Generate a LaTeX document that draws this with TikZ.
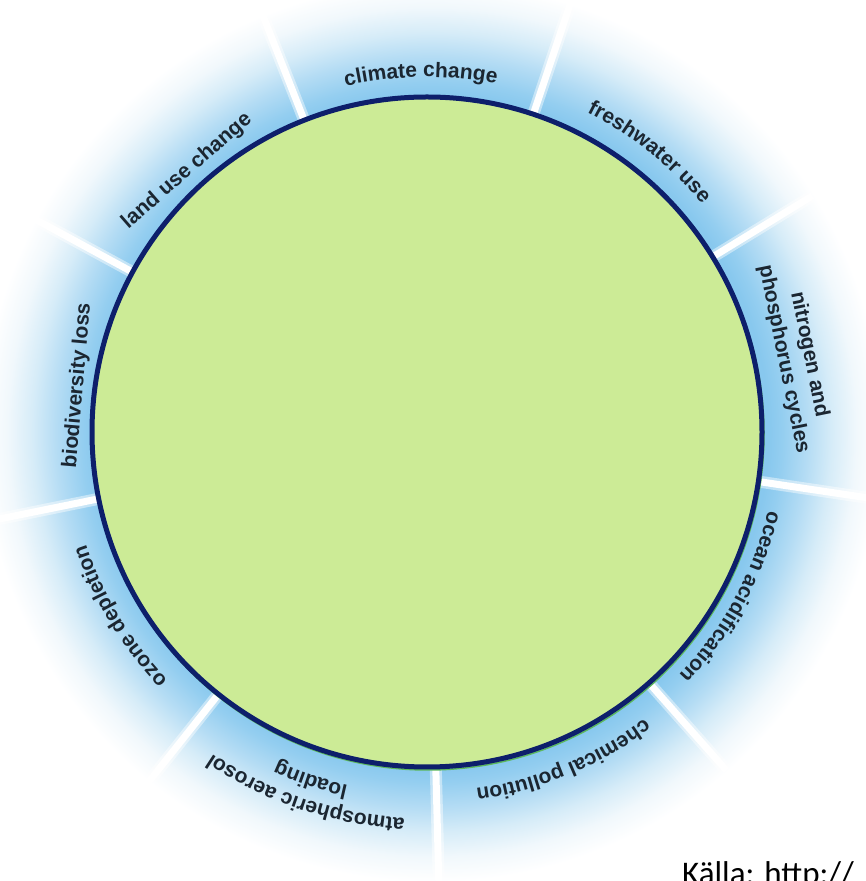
\documentclass[tikz,border=0pt]{standalone}
\usepackage{fontspec}
\usetikzlibrary{decorations.text}
\newfontfamily\lblfamily{Liberation Sans}
\newfontfamily\srcfamily{Carlito}
\definecolor{discgreen}{HTML}{CCEB96}
\definecolor{discnavy}{HTML}{0D1F6B}
\definecolor{rimgreen}{HTML}{5CB85C}
\definecolor{lblcol}{HTML}{1B2631}
\definecolor{ringA}{HTML}{88C8EE}
\definecolor{ringB}{HTML}{94CEF0}
\definecolor{ringC}{HTML}{B4DCF4}
\definecolor{ringD}{HTML}{D6ECF8}
\definecolor{ringE}{HTML}{F1F8FC}
\pgfdeclareradialshading{ringshade}{\pgfpoint{0bp}{0bp}}{color(0bp)=(ringA); color(18.7bp)=(ringA); color(19.45bp)=(ringB); color(20.85bp)=(ringC); color(22.2bp)=(ringD); color(23.6bp)=(ringE); color(25bp)=(white); color(50bp)=(white)}
\newcommand\lblfmt{\lblfamily\bfseries\fontsize{21pt}{26pt}\selectfont}
% curved label: centre angle, baseline radius, text (reads clockwise, tops outward)
\newcommand\arclabel[3]{%
  \path[decorate, decoration={text along path, text align=center, text color=lblcol, text={|\lblfmt|#3}}]
    (C) ++(#1+45:#2) arc[start angle=#1+45, end angle=#1-45, radius=#2];}
\tikzset{
  sepline/.style={draw=white, line width=7pt},
  sephalo/.style={draw=white, opacity=0.45, line width=12pt},
  disc/.style={fill=discgreen, draw=discnavy, line width=5pt},
  lbl/.style={font=\lblfmt, text=lblcol, inner sep=0pt, align=center},
  srcstyle/.style={font=\srcfamily\fontsize{33pt}{40pt}\selectfont, text=black, inner sep=0pt, anchor=base west}
}
\begin{document}
\begin{tikzpicture}[x=1pt,y=1pt]
\useasboundingbox (0,0) rectangle (865,881);
\fill[white] (0,0) rectangle (865,881);
\coordinate (C) at (427,449);
% blue ring
\shade[shading=ringshade] ([xshift=5pt]C) circle[radius=450pt];
% separators
\foreach \k in {0,...,8}{
  \path[sephalo] (C) ++(111.5-40*\k:337pt) -- ++(111.5-40*\k:115pt);
  \path[sepline] (C) ++(111.5-40*\k:337pt) -- ++(111.5-40*\k:115pt);
}
% green disc
\draw[rimgreen, line width=1.5pt] ([shift={(1pt,-2pt)}]C) circle[radius=336pt];
\path[disc] (C) circle[radius=335pt];
% curved labels
\arclabel{91}{355pt}{climate change}
\arclabel{51.5}{357pt}{freshwater use}
\arclabel{-28.5}{350pt}{ocean acidification}
\arclabel{-67.5}{360pt}{chemical pollution}
\arclabel{-108.5}{387pt}{atmospheric aerosol}
\arclabel{-108.5}{362pt}{loading}
\arclabel{-149}{359pt}{ozone depletion}
% straight labels
\node[lbl, anchor=south, rotate=-78.5] (nitro)   at ([shift={(11.5:354pt)}]C) {nitrogen and\\phosphorus cycles};
\node[lbl, anchor=base, rotate=85]     (biodiv)  at (83,495)  {biodiversity loss};
\node[lbl, anchor=center, rotate=41]   (landuse) at (187,710) {land use change};
% source
\node[srcstyle] (src) at (682,-3) {Källa: http://};
\end{tikzpicture}
\end{document}
